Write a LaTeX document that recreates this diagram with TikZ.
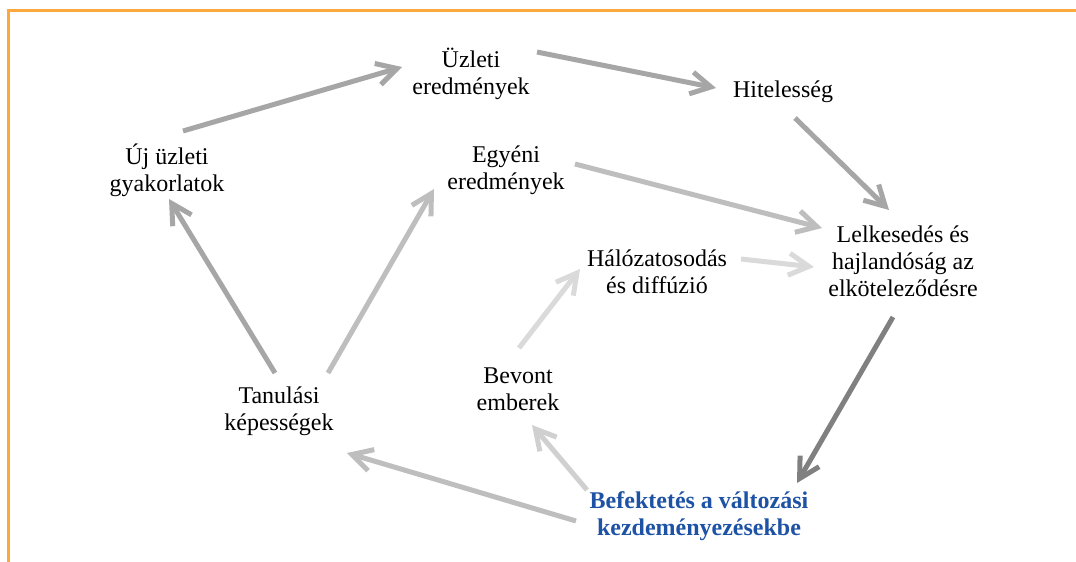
\documentclass[tikz,border=0pt]{standalone}
\usepackage{fontspec}
\setmainfont{Liberation Serif}
\usetikzlibrary{arrows.meta,calc}
\definecolor{frameor}{RGB}{250,170,60}
\definecolor{befblue}{RGB}{30,82,165}
\definecolor{gA}{RGB}{166,166,166}
\definecolor{gB}{RGB}{190,190,190}
\definecolor{gC}{RGB}{208,208,208}
\definecolor{gD}{RGB}{218,218,218}
\definecolor{gE}{RGB}{128,128,128}
\tikzset{
  lbl/.style={align=center, inner sep=0pt, font=\fontsize{24}{27}\selectfont},
  arr/.style={line width=5pt, -{Straight Barb[length=20pt,width=22pt]}},
}
\begin{document}
\begin{tikzpicture}[x=1pt,y=-1pt]
\useasboundingbox (0,0) rectangle (1076,562);
\fill[white] (0,0) rectangle (1076,562);
\draw[frameor, line width=3pt] (8.5,562) -- (8.5,10.5) -- (1076,10.5);

\node[lbl] (uzleti) at (471,74) {Üzleti\\eredmények};
\node[lbl] (hit) at (783,92) {Hitelesség};
\node[lbl] (uj) at (167,170) {Új üzleti\\gyakorlatok};
\node[lbl] (egyeni) at (506,170) {Egyéni\\eredmények};
\node[lbl] (lelk) at (903,261) {Lelkesedés és\\hajlandóság az\\elköteleződésre};
\node[lbl] (halo) at (657,272) {Hálózatosodás\\és diffúzió};
\node[lbl] (bevont) at (518,389) {Bevont\\emberek};
\node[lbl] (tan) at (279,411) {Tanulási\\képességek};
\node[lbl, text=befblue, font=\fontsize{24}{27}\selectfont\bfseries] (bef) at (699,516) {Befektetés a változási\\kezdeményezésekbe};

\draw[arr, gA] ($(uj)+(16,-39)$) -- ($(uzleti)+(-69,-7)$);
\draw[arr, gA] ($(uzleti)+(66,-22)$) -- ($(hit)+(-67,-4)$);
\draw[arr, gA] ($(hit)+(12,26)$) -- ($(lelk)+(-14,-51)$);
\draw[arr, gB] ($(egyeni)+(69,-6)$) -- ($(lelk)+(-81,-33)$);
\draw[arr, gD] ($(halo)+(84,-13)$) -- ($(lelk)+(-89,6)$);
\draw[arr, gE] ($(lelk)+(-10,56)$) -- ($(bef)+(98,-33)$);
\draw[arr, gB] ($(bef)+(-123,5)$) -- ($(tan)+(68,42)$);
\draw[arr, gC] ($(bef)+(-112,-26)$) -- ($(bevont)+(14,36)$);
\draw[arr, gD] ($(bevont)+(1,-41)$) -- ($(halo)+(-77,-3)$);
\draw[arr, gA] ($(tan)+(-4,-38)$) -- ($(uj)+(2,29)$);
\draw[arr, gB] ($(tan)+(49,-38)$) -- ($(egyeni)+(-72,19)$);
\end{tikzpicture}
\end{document}
